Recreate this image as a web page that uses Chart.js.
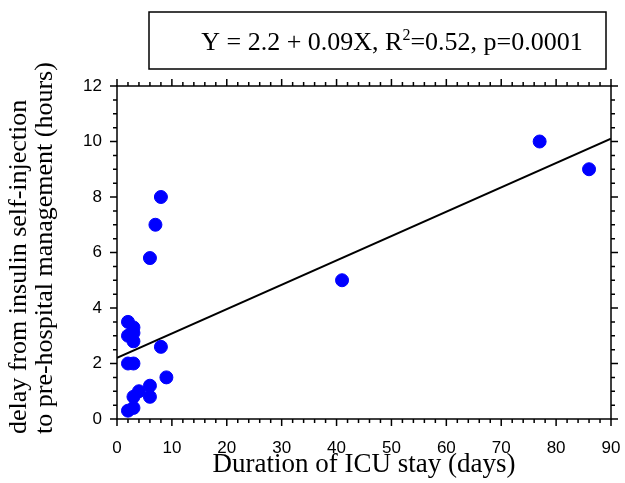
<!DOCTYPE html>
<html>
<head>
<meta charset="utf-8">
<script src="https://cdn.jsdelivr.net/npm/chart.js@4.4.1/dist/chart.umd.min.js"></script>
<style>
  html, body { margin: 0; padding: 0; background: #fff; }
  canvas { display: block; }
</style>
</head>
<body>
<canvas id="chart" width="625" height="483"></canvas>
<script>
// ICU stay (days) vs delay to pre-hospital management (hours)
const icuDays = [8, 7, 6, 2, 3, 2, 3, 3, 8, 2, 3, 9, 6, 4, 6, 3, 2, 3, 41, 77, 86];
const delayHours = [8, 7, 5.8, 3.5, 3.3, 3, 3.1, 2.8, 2.6, 2, 2, 1.5, 1.2, 1, 0.8, 0.8, 0.3, 0.4, 5, 10, 9];
const fitX = [0, 90];
const fitY = [2.2, 10.1];
const equationParts = ["Y = 2.2 + 0.09X, R", "2", "=0.52, p=0.0001"];
const yTitleLines = ["delay from insulin self-injection", "to pre-hospital management (hours)"];

const serif = "'Liberation Serif', 'Times New Roman', serif";
const sans = "'Liberation Sans', Arial, sans-serif";

// frame ticks on all four sides, pointing outward, with minor ticks
const frameTicks = {
    id: "frameTicks",
    afterDraw(chart) {
        const ctx = chart.ctx;
        const { left, right, top, bottom } = chart.chartArea;
        const xs = chart.scales.x, ys = chart.scales.y;
        ctx.save();
        ctx.strokeStyle = "#000";
        ctx.lineWidth = 1.5;
        ctx.strokeRect(left, top, right - left, bottom - top);
        for (let v = 0; v <= 90; v += 2) {
            const px = xs.getPixelForValue(v);
            const len = v % 10 === 0 ? 7 : 4;
            ctx.beginPath();
            ctx.moveTo(px, bottom); ctx.lineTo(px, bottom + len);
            ctx.moveTo(px, top); ctx.lineTo(px, top - len);
            ctx.stroke();
        }
        for (let v = 0; v <= 12; v += 0.5) {
            const py = ys.getPixelForValue(v);
            const len = v % 2 === 0 ? 7 : 4;
            ctx.beginPath();
            ctx.moveTo(left, py); ctx.lineTo(left - len, py);
            ctx.moveTo(right, py); ctx.lineTo(right + len, py);
            ctx.stroke();
        }
        ctx.restore();
    },
};

// boxed regression equation above the plot + the rotated y title
const textBits = {
    id: "textBits",
    afterDraw(chart) {
        const ctx = chart.ctx;
        ctx.save();
        ctx.strokeStyle = "#000";
        ctx.lineWidth = 1.5;
        ctx.strokeRect(149, 12, 457, 57);
        const big = "26px " + serif, small = "16px " + serif;
        ctx.font = big;
        const w0 = ctx.measureText(equationParts[0]).width;
        const w2 = ctx.measureText(equationParts[2]).width;
        ctx.font = small;
        const w1 = ctx.measureText(equationParts[1]).width;
        let x = 392 - (w0 + w1 + w2) / 2;
        const base = 50;
        ctx.fillStyle = "#000";
        ctx.textBaseline = "alphabetic";
        ctx.textAlign = "left";
        ctx.font = big;
        ctx.fillText(equationParts[0], x, base);
        x += w0;
        ctx.font = small;
        ctx.fillText(equationParts[1], x, base - 10);
        x += w1;
        ctx.font = big;
        ctx.fillText(equationParts[2], x, base);
        ctx.restore();

        // y title, two lines starting from the bottom
        ctx.save();
        ctx.fillStyle = "#000";
        ctx.font = "26px " + serif;
        ctx.textAlign = "left";
        ctx.textBaseline = "middle";
        [19, 45].forEach((cx, i) => {
            ctx.save();
            ctx.translate(cx, 434);
            ctx.rotate(-Math.PI / 2);
            ctx.fillText(yTitleLines[i], 0, 0);
            ctx.restore();
        });
        ctx.restore();
    },
};

const points = icuDays.map((d, i) => ({ x: d, y: delayHours[i] }));
const fitLine = fitX.map((d, i) => ({ x: d, y: fitY[i] }));

new Chart(document.getElementById("chart").getContext("2d"), {
    type: "scatter",
    data: {
        datasets: [
            {
                data: fitLine,
                type: "line",
                borderColor: "#000",
                borderWidth: 2,
                pointRadius: 0,
                fill: false,
                order: 2,
            },
            {
                data: points,
                backgroundColor: "#0000ff",
                borderColor: "#0000ff",
                borderWidth: 1,
                pointRadius: 6.5,
                pointHoverRadius: 6.5,
                order: 1,
            },
        ],
    },
    options: {
        responsive: false,
        animation: false,
        layout: { padding: { left: 0, right: 14, top: 86, bottom: 0 } },
        plugins: {
            legend: { display: false },
            tooltip: { enabled: false },
        },
        scales: {
            x: {
                type: "linear",
                min: 0,
                max: 90,
                grid: { display: false, drawTicks: false },
                border: { display: false },
                ticks: { stepSize: 10, color: "#000", padding: 19, font: { family: sans, size: 17 } },
                title: {
                    display: true,
                    text: "Duration of ICU stay (days)",
                    color: "#000",
                    font: { family: serif, size: 27 },
                    padding: { top: 0, bottom: 2 },
                },
                afterFit(scale) {
                    scale.height = 64;
                    scale.paddingLeft = 0;
                    scale.paddingRight = 0;
                },
            },
            y: {
                type: "linear",
                min: 0,
                max: 12,
                grid: { display: false, drawTicks: false },
                border: { display: false },
                ticks: { stepSize: 2, color: "#000", padding: 15, font: { family: sans, size: 17 } },
                afterFit(scale) {
                    scale.width = 117;
                    scale.paddingTop = 0;
                    scale.paddingBottom = 0;
                },
            },
        },
    },
    plugins: [frameTicks, textBits],
});
</script>
</body>
</html>
